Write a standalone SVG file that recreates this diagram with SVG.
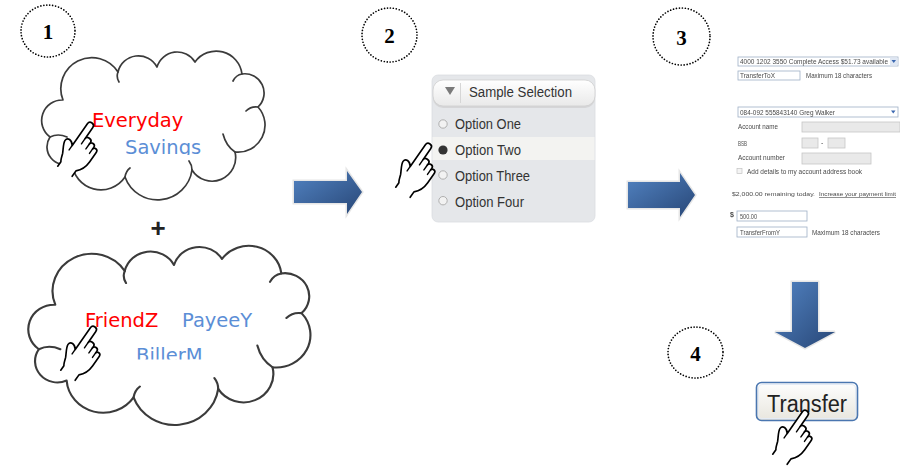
<svg xmlns="http://www.w3.org/2000/svg" xmlns:xlink="http://www.w3.org/1999/xlink" width="900" height="466" viewBox="0 0 900 466">
  <style>
    .badge { fill: none; stroke: #000; stroke-width: 1.7; stroke-dasharray: 0 3; stroke-linecap: round; }
    .badge-t { font-family: "Liberation Serif", "Times New Roman", serif; font-weight: bold; font-size: 21px; text-anchor: middle; fill: #000; }
    .cloud { fill: #fff; stroke: #3b3b3b; stroke-width: 1.7; stroke-linejoin: round; }
    .seam { fill: none; stroke: #3b3b3b; stroke-width: 1.7; stroke-linecap: round; }
    .lbl { font-family: "DejaVu Sans", Verdana, sans-serif; font-size: 19.5px; }
    .red { fill: #ff0000; }
    .blue { fill: #5b8ed6; }
    .hand { fill: #fff; stroke: #000; stroke-width: 1.5; stroke-linejoin: round; stroke-linecap: round; }
    .hand-line { fill: none; stroke: #000; stroke-width: 1.3; stroke-linecap: round; }
    .arrow { fill: url(#arrowFill); stroke: #e6e6e6; stroke-width: 3; paint-order: stroke; stroke-linejoin: miter; }
    .opt { font-family: "Liberation Sans", Arial, sans-serif; font-size: 14px; fill: #333; }
    .radio { fill: #f2f2f2; stroke: #a8a8a8; stroke-width: 0.9; }
    .ft { font-family: "Liberation Sans", Arial, sans-serif; font-size: 7px; fill: #4a4a4a; }
    .ft-s { font-family: "Liberation Sans", Arial, sans-serif; font-size: 6px; fill: #4a4a4a; }
    .fbox { fill: #fff; stroke: #9fb0c6; stroke-width: 0.8; }
    .fgray { fill: #e9e9e9; stroke: #c6c6c6; stroke-width: 0.8; }
  </style>
  <defs>
    <linearGradient id="arrowFill" x1="0" y1="0" x2="1" y2="1">
      <stop offset="0" stop-color="#5283c2"/>
      <stop offset="1" stop-color="#284777"/>
    </linearGradient>
    <linearGradient id="headerFill" x1="0" y1="0" x2="0" y2="1">
      <stop offset="0" stop-color="#ffffff"/>
      <stop offset="1" stop-color="#e9e9e9"/>
    </linearGradient>
    <linearGradient id="buttonFill" x1="0" y1="0" x2="0" y2="1">
      <stop offset="0" stop-color="#fefefe"/>
      <stop offset="1" stop-color="#e8e6de"/>
    </linearGradient>
    <filter id="soft" x="-5%" y="-5%" width="110%" height="110%">
      <feGaussianBlur stdDeviation="0.45"/>
    </filter>
    <clipPath id="clipSavings"><rect x="100" y="100" width="150" height="55"/></clipPath>
    <clipPath id="clipBiller"><rect x="100" y="300" width="150" height="59.5"/></clipPath>
    <!-- cloud outline with its inner seams -->
    <g id="cloudShape">
      <path class="cloud" d="M50,137 A20.5,20.5 0 0 1 63,100 A31,31 0 0 1 118,72 A21,21 0 0 1 157,67 A21,21 0 0 1 195,62 A26,26 0 0 1 242,74 A19.2,19.2 0 0 1 258,107 A27,27 0 0 1 235,152 A23.6,23.6 0 0 1 192,170 A34.7,34.7 0 0 1 125,177 A29,29 0 0 1 72,163 A17.7,17.7 0 0 1 50,137 Z"/>
      <path class="seam" d="M118,72 q-2,5 1,10 M242,74 q-6,1 -9,7 M258,107 q-7,-1 -12,4 M235,152 q-9,-6 -12,-18 M192,170 q0,-5 -3,-9 M125,177 q1,-6 5,-9 M50,137 q8,-4 17,0"/>
    </g>
    <!-- pointing hand, fingertip at the origin -->
    <g id="hand">
      <path class="hand" d="M-3,50 V45 C-4,44 -5,41 -6,38 C-8,34 -11,30 -11,27 C-11,23 -6,23 -3,27 V3 C-3,-1 3,-1 3,3 V15 C3,12 9,12 9,15 V17 C9,14 14,14 14,17 V19 C14,16.5 18.5,16.5 18.5,19.5 V30 C18.5,37 16,41 13,44 V50"/>
      <path class="hand-line" d="M3,15 V21 M9,17 V22.5 M14,19 V24 M-3,27 V32"/>
    </g>
  </defs>

  <rect width="900" height="466" fill="#fff"/>

  <!-- step badges -->
  <g id="badge1"><ellipse class="badge" cx="48" cy="31" rx="27" ry="26"/><text class="badge-t" x="48" y="39">1</text></g>
  <g id="badge2"><ellipse class="badge" cx="389.5" cy="35" rx="27.5" ry="27"/><text class="badge-t" x="389.5" y="43">2</text></g>
  <g id="badge3"><ellipse class="badge" cx="681.5" cy="36.5" rx="28.5" ry="28.5"/><text class="badge-t" x="681.5" y="44.5">3</text></g>
  <g id="badge4"><ellipse class="badge" cx="695.5" cy="352.5" rx="27.5" ry="25.5"/><text class="badge-t" x="695.5" y="360.5">4</text></g>

  <!-- step 1: account cloud -->
  <g id="accounts">
    <use xlink:href="#cloudShape"/>
    <text class="lbl red" x="92" y="127">Everyday</text>
    <text class="lbl blue" x="125" y="154" clip-path="url(#clipSavings)">Savings</text>
    <use xlink:href="#hand" transform="translate(92,123) rotate(35) scale(1.1)"/>
  </g>

  <g id="plus"><text x="158" y="237" font-family="Liberation Sans, Arial, sans-serif" font-size="26" font-weight="bold" text-anchor="middle" fill="#222">+</text></g>

  <!-- step 1: payee cloud -->
  <g id="payees">
    <use xlink:href="#cloudShape" transform="matrix(1.263 0 0 1.203 -24.3 184.4)"/>
    <text class="lbl red" x="85" y="327">FriendZ</text>
    <text class="lbl blue" x="182" y="327">PayeeY</text>
    <text class="lbl blue" x="136" y="362" clip-path="url(#clipBiller)">BillerM</text>
    <use xlink:href="#hand" transform="translate(95,327) rotate(35) scale(1.1)"/>
  </g>

  <!-- step 2: selection list -->
  <g id="selection">
    <rect x="432" y="75" width="163" height="147" rx="6" fill="#e5e7ea" stroke="#dadde1" stroke-width="0.8"/>
    <rect x="432.5" y="137" width="162" height="23" fill="#f3f3f1"/>
    <rect x="433" y="82" width="162" height="26" rx="10" fill="#c9c9c9" opacity="0.6"/>
    <rect x="433" y="80" width="162" height="26" rx="10" fill="url(#headerFill)" stroke="#cfcfcf" stroke-width="0.8"/>
    <line x1="460.5" y1="83" x2="460.5" y2="103" stroke="#d6d6d6" stroke-width="1"/>
    <polygon points="445,87 455,87 450,95" fill="#7a7a7a"/>
    <text class="opt" x="469" y="96.5" textLength="103" lengthAdjust="spacingAndGlyphs">Sample Selection</text>
    <circle class="radio" cx="443" cy="124" r="4.2"/>
    <circle cx="443" cy="150" r="4.6" fill="#333"/>
    <circle class="radio" cx="443" cy="175" r="4.2"/>
    <circle class="radio" cx="443" cy="200.7" r="4.2"/>
    <text class="opt" x="455" y="129" textLength="66" lengthAdjust="spacingAndGlyphs">Option One</text>
    <text class="opt" x="455" y="155" textLength="66" lengthAdjust="spacingAndGlyphs">Option Two</text>
    <text class="opt" x="455" y="180.5" textLength="75" lengthAdjust="spacingAndGlyphs">Option Three</text>
    <text class="opt" x="455" y="206.5" textLength="69" lengthAdjust="spacingAndGlyphs">Option Four</text>
    <use xlink:href="#hand" transform="translate(430,144) rotate(35) scale(1.1)"/>
  </g>

  <!-- step 3: transfer form -->
  <g id="form" filter="url(#soft)">
    <rect class="fbox" x="738" y="57" width="160" height="9"/>
    <rect x="890" y="57.5" width="7.5" height="8" fill="#dfe7f3"/>
    <polygon points="891.5,60 896,60 893.75,63" fill="#3a67b0"/>
    <text class="ft" x="740" y="64" textLength="148" lengthAdjust="spacingAndGlyphs">4000 1202 3550 Complete Access $51.73 available</text>
    <rect class="fbox" x="738" y="71" width="62" height="9"/>
    <text class="ft" x="740" y="78" textLength="35" lengthAdjust="spacingAndGlyphs">TransferToX</text>
    <text class="ft" x="806" y="78" textLength="66" lengthAdjust="spacingAndGlyphs">Maximum 18 characters</text>

    <rect class="fbox" x="738" y="107" width="160" height="10"/>
    <polygon points="891,110.5 895.5,110.5 893.25,113.5" fill="#3a67b0"/>
    <text class="ft" x="740" y="114.5" textLength="95" lengthAdjust="spacingAndGlyphs">084-092 555843140 Greg Walker</text>
    <text class="ft" x="738" y="129" textLength="40" lengthAdjust="spacingAndGlyphs">Account name</text>
    <rect class="fgray" x="802" y="122" width="98" height="10"/>
    <text class="ft" x="738" y="146" textLength="9" lengthAdjust="spacingAndGlyphs">BSB</text>
    <rect class="fgray" x="802" y="138" width="16" height="10"/>
    <text class="ft" x="821" y="145">-</text>
    <rect class="fgray" x="828" y="138" width="17" height="10"/>
    <text class="ft" x="738" y="160" textLength="47" lengthAdjust="spacingAndGlyphs">Account number</text>
    <rect class="fgray" x="802" y="153" width="69" height="11"/>
    <rect x="737" y="168.5" width="5" height="5" fill="#f4f4f4" stroke="#c4c4c4" stroke-width="0.7"/>
    <text class="ft" x="747" y="174" textLength="115" lengthAdjust="spacingAndGlyphs">Add details to my account address book</text>
    <text class="ft-s" x="732" y="196" textLength="83" lengthAdjust="spacingAndGlyphs">$2,000.00 remaining today.</text>
    <text class="ft-s" x="819" y="196" textLength="77" lengthAdjust="spacingAndGlyphs" text-decoration="underline">Increase your payment limit</text>
    <text class="ft" x="730" y="217" font-weight="bold">$</text>
    <rect class="fbox" x="737" y="211" width="70" height="10"/>
    <text class="ft" x="740" y="218.5" textLength="17" lengthAdjust="spacingAndGlyphs">500.00</text>
    <rect class="fbox" x="737" y="227" width="70" height="10"/>
    <text class="ft" x="740" y="234.5" textLength="40" lengthAdjust="spacingAndGlyphs">TransferFromY</text>
    <text class="ft" x="812" y="234.5" textLength="68" lengthAdjust="spacingAndGlyphs">Maximum 18 characters</text>
  </g>

  <!-- step 4: transfer button -->
  <g id="transfer">
    <rect x="756.5" y="382.5" width="101" height="38" rx="5" fill="url(#buttonFill)" stroke="#4a76b0" stroke-width="1.6"/>
    <rect x="758.5" y="384.5" width="97" height="34" rx="3.5" fill="none" stroke="#e4ebf5" stroke-width="1"/>
    <text x="807" y="411.5" font-family="Liberation Sans, Arial, sans-serif" font-size="23" text-anchor="middle" fill="#222" textLength="80" lengthAdjust="spacingAndGlyphs">Transfer</text>
    <use xlink:href="#hand" transform="translate(807,411) rotate(35) scale(1.1)"/>
  </g>

  <!-- flow arrows -->
  <g id="connectors">
    <path class="arrow" d="M294,181 H347 V171 L362,192 L347,214 V203 H294 Z"/>
    <path class="arrow" d="M628,182 H680 V173 L695,195 L680,217 V208 H628 Z"/>
    <path class="arrow" d="M792,282 H818 V332 H835 L805,348 L775,332 H792 Z"/>
  </g>
</svg>
